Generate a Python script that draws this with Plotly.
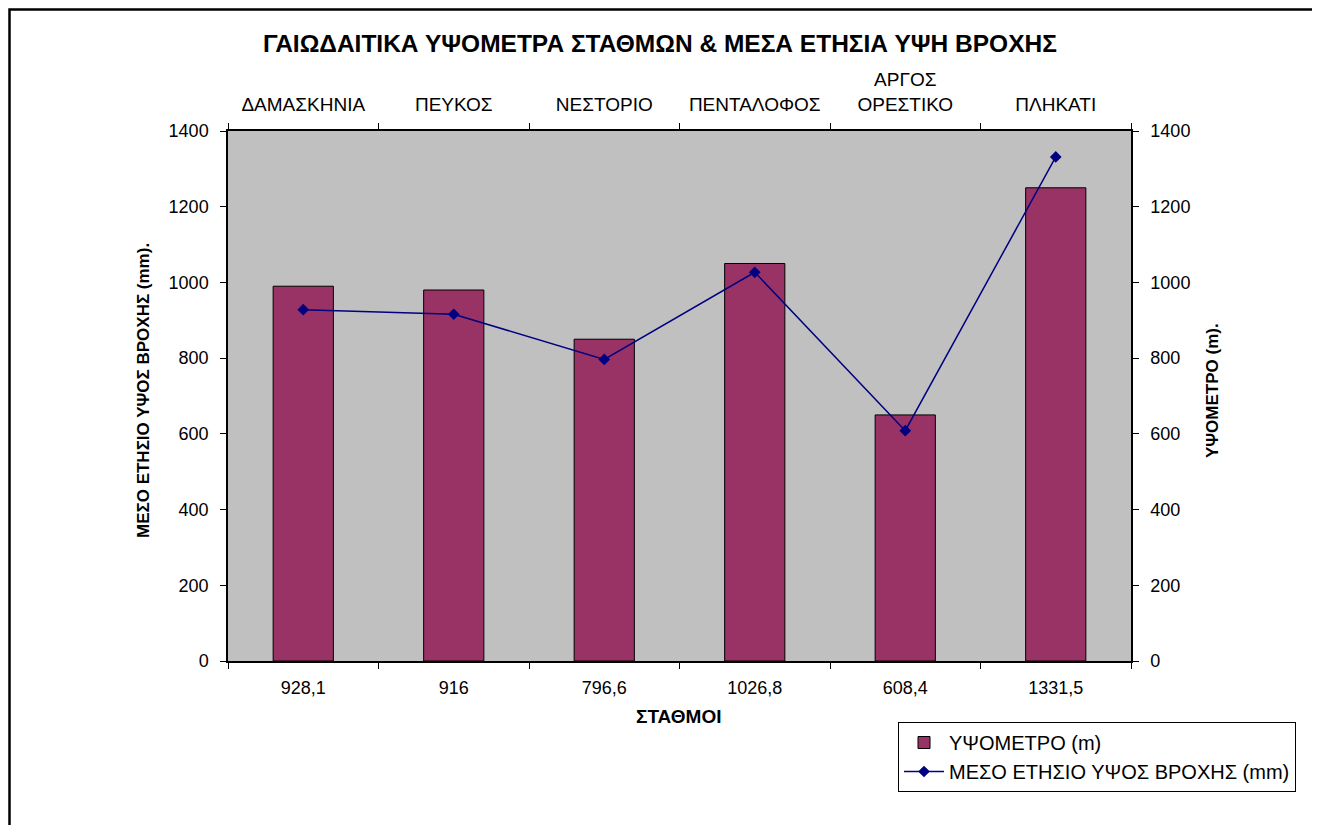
import plotly.graph_objects as go

stations = ["ΔΑΜΑΣΚΗΝΙΑ", "ΠΕΥΚΟΣ", "ΝΕΣΤΟΡΙΟ", "ΠΕΝΤΑΛΟΦΟΣ", "ΑΡΓΟΣ<br>ΟΡΕΣΤΙΚΟ", "ΠΛΗΚΑΤΙ"]
elevation_m = [990, 980, 850, 1050, 650, 1250]
rainfall_mm = [928.1, 916, 796.6, 1026.8, 608.4, 1331.5]
rain_labels = ["928,1", "916", "796,6", "1026,8", "608,4", "1331,5"]
y_ticks = [0, 200, 400, 600, 800, 1000, 1200, 1400]

FONT = "Arial, 'Liberation Sans', sans-serif"

# page body has an 8px margin: work in figure coordinates (screen - 8)
OFF = 8
W, H = 1320 - OFF, 825 - OFF
L, R, T, B = 228 - OFF, 1131 - OFF, 131 - OFF, 661 - OFF
pw, ph = R - L, B - T


def px(x):
    return (x - OFF - L) / pw


def py(y):
    return (B - (y - OFF)) / ph


fig = go.Figure()
fig.add_trace(go.Bar(
    x=stations, y=elevation_m, name="ΥΨΟΜΕΤΡΟ (m)",
    xaxis="x", yaxis="y", width=0.4,
    marker=dict(color="#993366", line=dict(color="black", width=1)),
))
fig.add_trace(go.Scatter(
    x=stations, y=rainfall_mm, name="ΜΕΣΟ ΕΤΗΣΙΟ ΥΨΟΣ ΒΡΟΧΗΣ (mm)",
    xaxis="x2", yaxis="y2", mode="lines+markers",
    line=dict(color="#000080", width=1.5),
    marker=dict(symbol="diamond", size=9, color="#000080"),
))

common_x = dict(type="category", categoryorder="array", categoryarray=stations,
                range=[-0.5, 5.5], tickmode="array", tickvals=stations,
                tickson="boundaries", ticks="outside", ticklen=6, tickcolor="black",
                showline=True, linecolor="black", linewidth=1.5, showgrid=False,
                zeroline=False, fixedrange=True)
common_y = dict(range=[0, 1400], tickmode="array", tickvals=y_ticks,
                ticks="outside", ticklen=6, tickcolor="black", showline=True,
                linecolor="black", linewidth=1.5, showgrid=False, zeroline=False,
                tickfont=dict(size=18), ticklabelstandoff=8)
inner = dict(ticks="inside", ticklen=5, tickcolor="black", showticklabels=False,
             showline=False, showgrid=False, zeroline=False)
bounds = [-0.5, 0.5, 1.5, 2.5, 3.5, 4.5, 5.5]

fig.update_layout(
    width=W, height=H,
    margin=dict(l=L, r=W - R, t=T, b=H - B, pad=0),
    paper_bgcolor="white", plot_bgcolor="#C0C0C0",
    font=dict(family=FONT, size=18, color="black"),
    title=dict(text="<b>ΓΑΙΩΔΑΙΤΙΚΑ ΥΨΟΜΕΤΡΑ ΣΤΑΘΜΩΝ & ΜΕΣΑ ΕΤΗΣΙΑ ΥΨΗ ΒΡΟΧΗΣ</b>",
               x=(660 - OFF) / W, xanchor="center", xref="container",
               y=1 - (43 - OFF) / H, yanchor="middle",
               yref="container", font=dict(size=24.5, family=FONT)),
    xaxis=dict(**common_x, ticktext=rain_labels, side="bottom",
               tickfont=dict(size=18), ticklabelstandoff=10),
    xaxis2=dict(**common_x, ticktext=stations, side="top", overlaying="x",
                tickfont=dict(size=19), ticklabelstandoff=11),
    yaxis=dict(**common_y, side="left"),
    yaxis2=dict(**common_y, side="right", overlaying="y"),
    xaxis3=dict(range=[-0.5, 5.5], tickvals=bounds, overlaying="x", side="bottom", **inner),
    xaxis4=dict(range=[-0.5, 5.5], tickvals=bounds, overlaying="x", side="top", **inner),
    yaxis3=dict(range=[0, 1400], tickvals=y_ticks, overlaying="y", side="left", **inner),
    yaxis4=dict(range=[0, 1400], tickvals=y_ticks, overlaying="y", side="right", **inner),
    legend=dict(x=px(898), y=py(722), xanchor="left", yanchor="top",
                bordercolor="black", borderwidth=1, bgcolor="white",
                font=dict(size=20), traceorder="normal", itemwidth=40),
    showlegend=True,
)

# axis titles
fig.add_annotation(text="<b>ΣΤΑΘΜΟΙ</b>", xref="paper", yref="paper",
                   x=px(678), y=py(716), showarrow=False, font=dict(size=19),
                   xanchor="center", yanchor="middle")
fig.add_annotation(text="<b>ΜΕΣΟ ΕΤΗΣΙΟ ΥΨΟΣ ΒΡΟΧΗΣ (mm).</b>", xref="paper", yref="paper",
                   x=px(143), y=py(391), showarrow=False, font=dict(size=17),
                   textangle=-90, xanchor="center", yanchor="middle")
fig.add_annotation(text="<b>ΥΨΟΜΕΤΡΟ (m).</b>", xref="paper", yref="paper",
                   x=px(1212), y=py(391), showarrow=False, font=dict(size=17),
                   textangle=-90, xanchor="center", yanchor="middle")

# outer chart frame
fig.add_shape(type="rect", xref="paper", yref="paper",
              x0=-L / pw + 1.5 / pw, x1=px(1316), y0=py(840), y1=(B - 1.5) / ph,
              line=dict(color="black", width=2.5), fillcolor="rgba(0,0,0,0)", layer="below")

fig.write_html("out.html")
